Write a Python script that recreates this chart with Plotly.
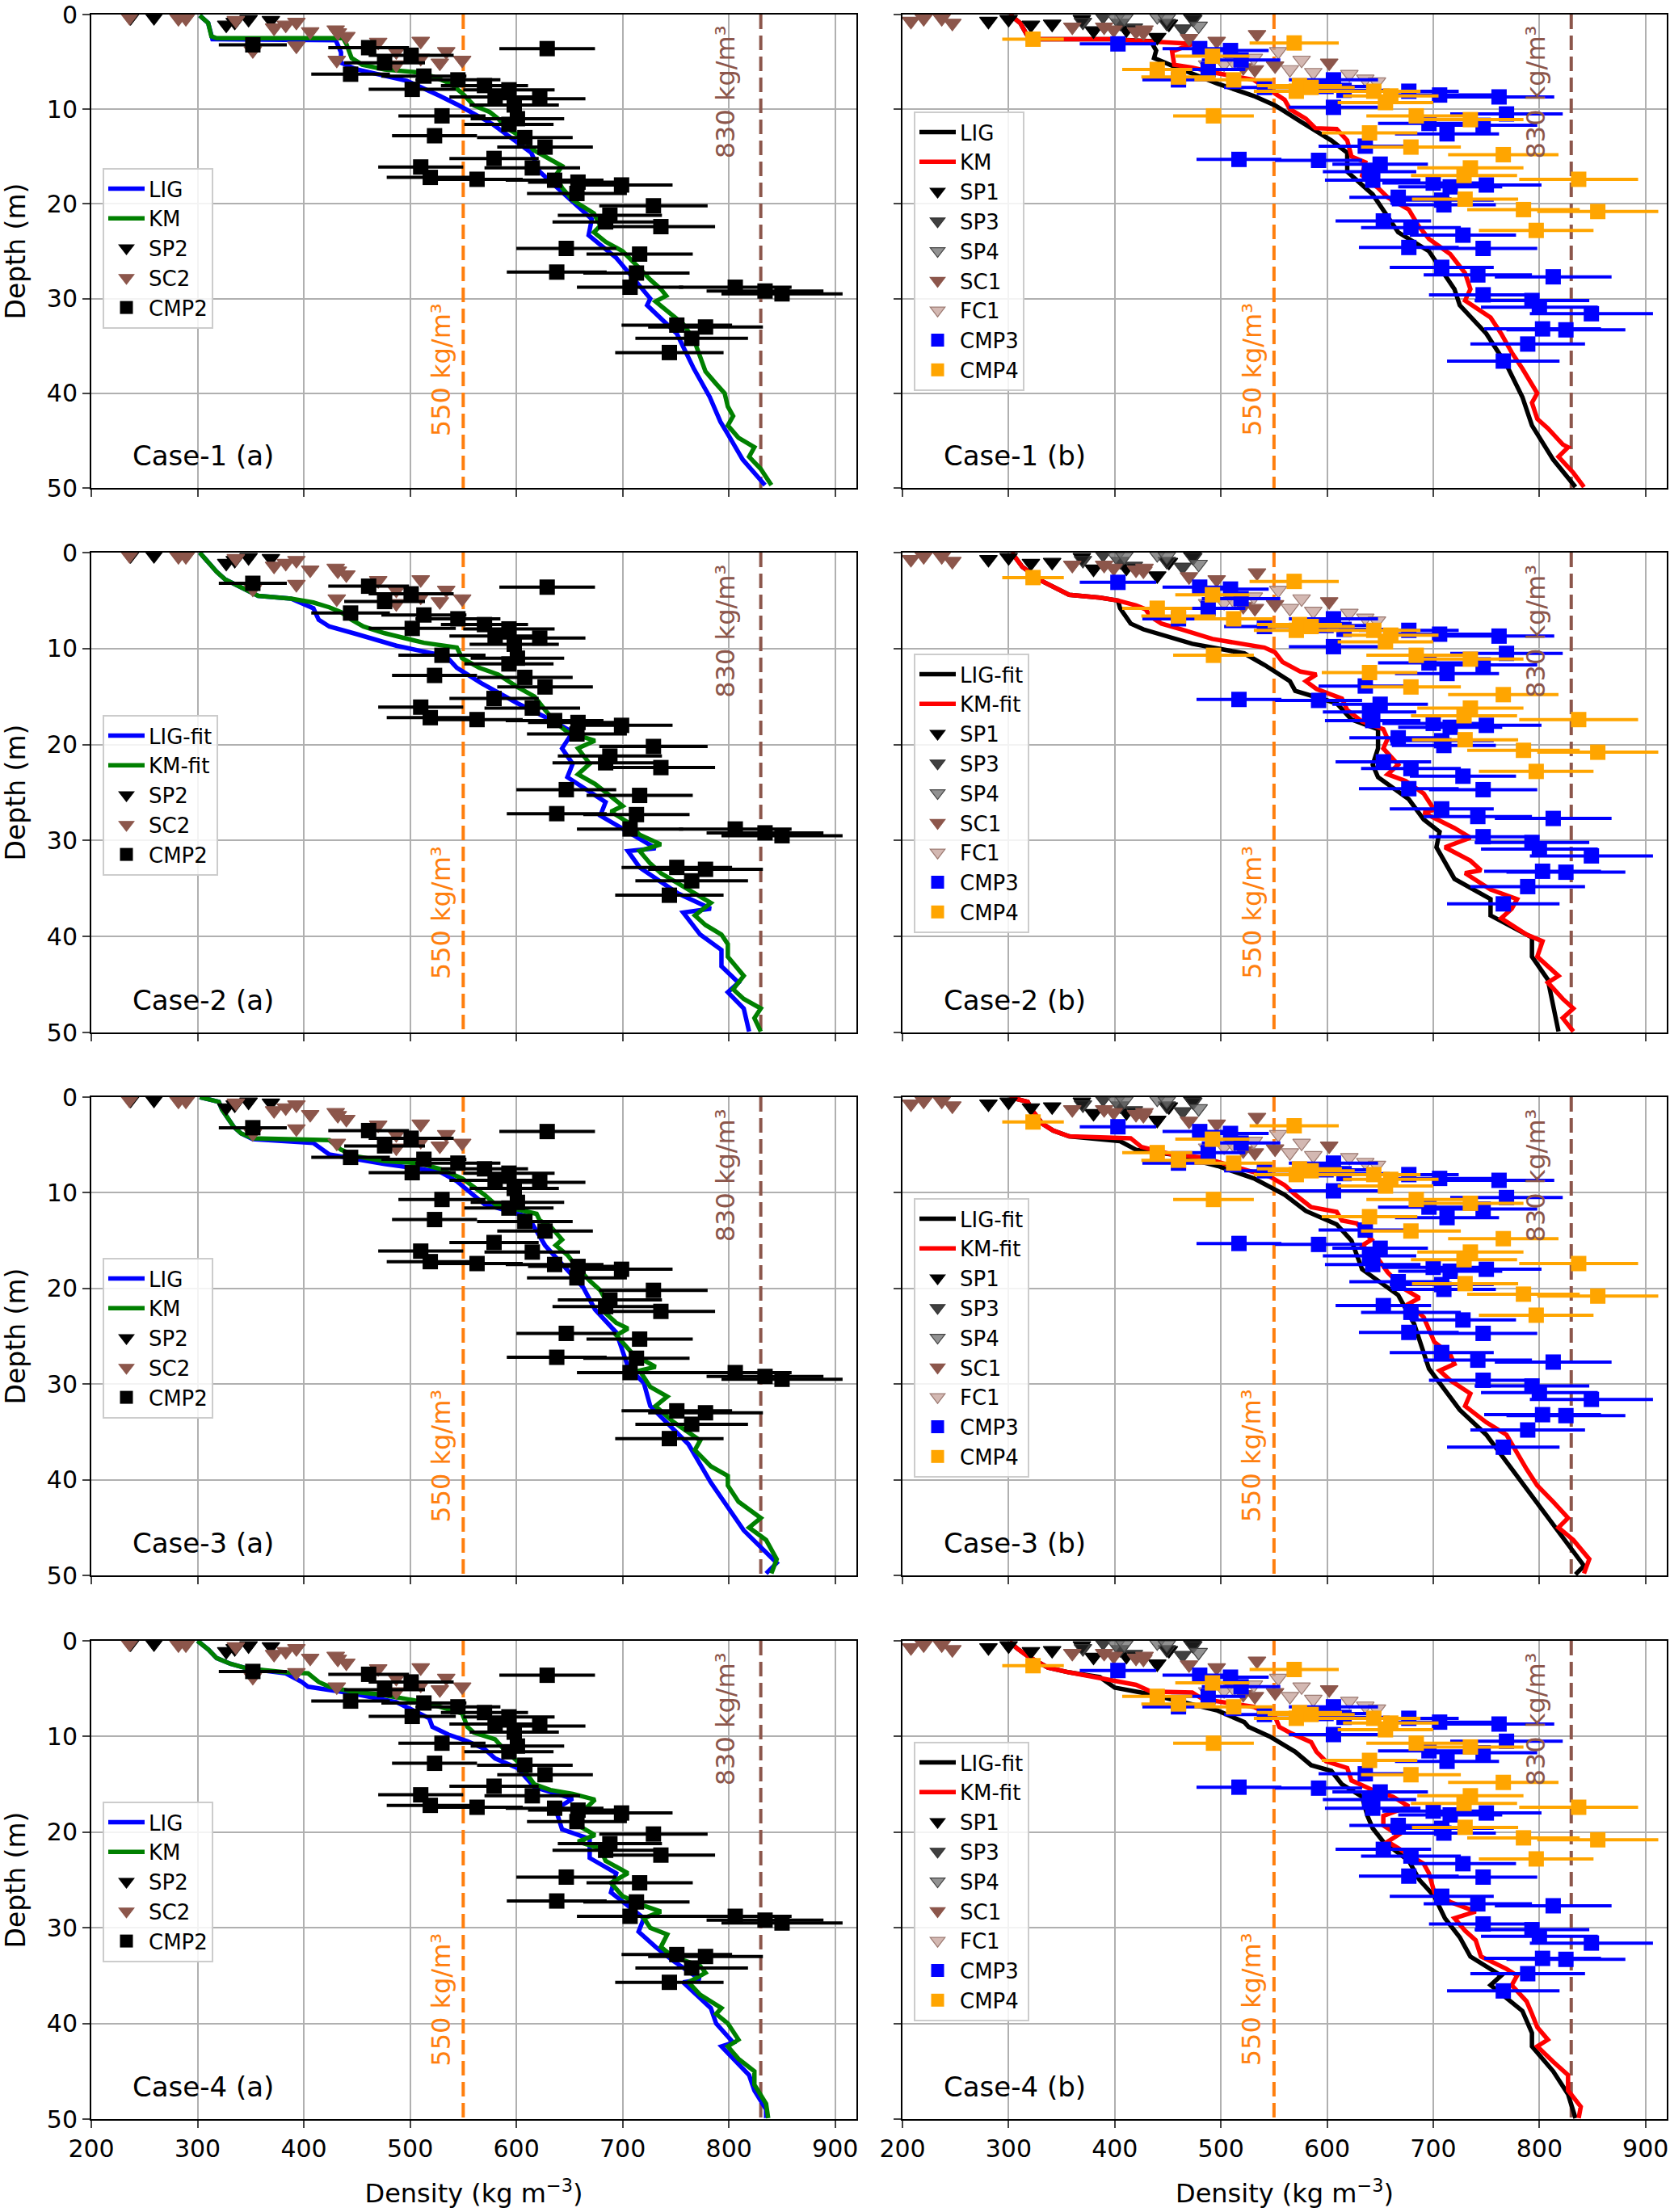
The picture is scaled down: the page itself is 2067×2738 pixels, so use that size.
import plotly.graph_objects as go

# ---------------- observations (left column) ----------------
sp2_rho = [237, 259, 327, 335, 348, 369]
sp2_z = [0.3, 0.3, 1.1, 0.8, 0.5, 0.6]
sc2_rho = [236, 282, 289, 336, 372, 383, 393, 406, 430, 432, 440, 393, 470, 487, 510, 534, 528, 549, 431, 352, 487, 510]
sc2_z = [0.3, 0.4, 0.4, 0.6, 1.4, 1.1, 0.8, 1.8, 1.6, 1.9, 2.3, 3.3, 2.9, 3.9, 2.8, 3.9, 5.1, 4.8, 4.8, 3.8, 5.3, 4.6]
cmp2_rho = [352, 629, 461, 501, 476, 444, 513, 545, 570, 502, 593, 580, 622, 598, 530, 601, 593, 523, 608, 627,
            579, 510, 615, 519, 563, 636, 658, 699, 657, 729, 688, 684, 736, 647, 716, 638, 713, 707, 806, 834,
            850, 751, 778, 765, 744]
cmp2_z = [3.2, 3.6, 3.5, 4.3, 5.1, 6.3, 6.5, 6.9, 7.5, 7.9, 7.95, 8.7, 8.9, 9.55, 10.7, 11.0, 11.6, 12.8, 13.0, 14.0,
          15.2, 16.1, 16.2, 17.2, 17.4, 17.5, 17.7, 18.0, 18.9, 20.2, 21.2, 21.9, 22.4, 24.7, 25.3, 27.2, 27.3, 28.8, 28.8, 29.2,
          29.5, 32.8, 33.0, 34.2, 35.7]
cmp2_err = [32, 45, 38, 40, 38, 37, 40, 40, 41, 41, 43, 43, 43, 42, 41, 44, 42, 40, 45, 45,
            42, 40, 45, 41, 43, 46, 47, 48, 47, 51, 49, 50, 51, 47, 50, 47, 50, 50, 53, 55,
            57, 52, 54, 53, 51]

# ---------------- observations (right column) ----------------
sp1_rho = [281, 300, 321, 341, 369, 380, 411, 440, 451, 473]
sp1_z = [0.7, 0.5, 1.1, 1.0, 0.5, 1.7, 1.6, 2.4, 1.0, 0.4]
sp3_rho = [370, 389, 405, 418, 449, 464, 474]
sp3_z = [0.8, 0.2, 0.9, 1.4, 0.9, 1.5, 0.5]
sp4_rho = [401, 409, 440, 449, 479]
sp4_z = [0.4, 0.4, 0.2, 0.4, 1.2]
sc1_rho = [208, 220, 237, 247, 360, 390, 399, 420, 427, 428, 470, 496, 534, 521, 551, 602, 532]
sc1_z = [0.7, 0.4, 0.4, 0.9, 1.3, 1.3, 1.6, 1.8, 1.9, 1.6, 2.5, 2.8, 2.1, 5.6, 5.4, 5.1, 5.8]
fc1_rho = [487, 503, 512, 531, 554, 565, 576, 587, 621, 636, 647]
fc1_z = [5.3, 5.2, 5.0, 4.6, 3.9, 5.8, 4.8, 6.1, 6.3, 6.8, 7.1]
cmp3_rho = [403, 480, 509, 519, 488, 460, 541, 606, 616, 599, 677, 706, 762, 606, 769, 696, 747, 713, 636, 517,
            592, 650, 640, 643, 700, 716, 750, 667, 708, 710, 653, 679, 728, 677, 747, 708, 742, 813, 747, 793,
            800, 849, 803, 825, 789, 766]
cmp3_z = [3.1, 3.6, 3.8, 4.8, 5.8, 6.9, 7.7, 6.9, 8.0, 7.6, 8.1, 8.5, 8.7, 9.8, 10.5, 11.5, 11.7, 12.6, 13.9, 15.3,
          15.4, 15.8, 16.6, 17.5, 17.8, 18.2, 18.0, 19.3, 19.6, 20.1, 21.8, 22.5, 23.3, 24.6, 24.7, 26.7, 27.5, 27.7, 29.6, 30.2,
          30.9, 31.6, 33.2, 33.3, 34.8, 36.6]
cmp3_err = [36, 35, 36, 37, 35, 34, 38, 42, 43, 42, 47, 49, 52, 42, 53, 48, 51, 49, 44, 40,
            41, 45, 44, 45, 48, 49, 52, 46, 49, 49, 45, 47, 50, 47, 51, 49, 51, 55, 51, 54,
            55, 58, 55, 56, 54, 53]
cmp4_rho = [323, 569, 492, 440, 460, 512, 574, 585, 571, 644, 660, 655, 493, 684, 735, 640, 679, 766, 735, 729,
            837, 730, 785, 855, 797]
cmp4_z = [2.6, 3.0, 4.4, 5.8, 6.6, 6.9, 7.5, 7.7, 8.1, 8.1, 8.6, 9.3, 10.7, 10.7, 11.1, 12.5, 14.0, 14.8, 16.2, 17.0,
          17.4, 19.5, 20.6, 20.8, 22.8]
cmp4_err = [29, 42, 35, 33, 35, 37, 40, 41, 40, 44, 45, 45, 38, 47, 50, 45, 47, 52, 50, 50,
            56, 50, 53, 57, 54]

# ---------------- modelled profiles, left column ----------------
c1a_km_rho = [302, 310, 313, 318, 437, 440, 445, 455, 476, 507, 523, 538, 549, 560, 575, 583, 591, 606, 616, 632, 643, 637, 643, 653, 663, 673, 679, 673, 684, 700, 715, 726, 736, 741, 731, 747, 757, 767, 773, 778, 788, 796, 799, 804, 799, 809, 824, 819, 830, 840]
c1a_km_z = [0.1, 0.9, 2.3, 2.5, 2.5, 3.1, 4.6, 5.3, 5.8, 6.1, 6.6, 7.3, 8.3, 9.6, 10.3, 11.0, 12.0, 13.0, 14.3, 15.3, 16.0, 17.0, 18.3, 19.6, 20.3, 21.0, 22.3, 23.0, 24.0, 25.0, 26.7, 28.0, 29.0, 29.7, 30.3, 31.7, 32.7, 34.3, 36.3, 37.7, 39.0, 40.0, 41.4, 42.4, 43.4, 44.7, 45.7, 46.7, 48.0, 49.7]
c1a_lig_rho = [302, 310, 314, 430, 435, 435, 450, 497, 528, 546, 578, 614, 622, 648, 671, 668, 694, 726, 723, 751, 767, 782, 792, 800, 813, 834]
c1a_lig_z = [0.1, 0.9, 2.6, 2.7, 4.0, 5.1, 5.8, 7.0, 8.6, 9.6, 11.6, 14.6, 16.6, 19.3, 21.6, 23.3, 25.7, 30.0, 30.7, 33.7, 37.4, 40.4, 43.0, 44.5, 47.0, 49.7]

c2a_km_rho = [302, 310, 318, 326, 341, 357, 388, 409, 424, 435, 445, 456, 476, 513, 544, 549, 565, 583, 601, 617, 627, 637, 648, 674, 658, 669, 658, 674, 689, 700, 689, 705, 716, 736, 716, 726, 736, 757, 783, 768, 778, 793, 799, 799, 814, 804, 814, 830, 824, 830]
c2a_km_z = [0, 1, 2, 2.8, 3.6, 4.5, 4.8, 5.2, 5.7, 6.2, 7.0, 7.7, 8.4, 9.4, 9.9, 11.0, 12.0, 12.7, 14.0, 15.0, 16.4, 17.7, 18.7, 19.6, 20.4, 22.0, 23.1, 24.1, 25.4, 26.4, 27.0, 28.1, 29.4, 30.4, 31.1, 32.4, 33.4, 34.8, 36.5, 37.8, 38.8, 39.8, 40.8, 42.1, 44.1, 45.5, 46.5, 47.5, 48.5, 49.9]
c2a_lig_rho = [302, 310, 318, 326, 341, 357, 388, 409, 414, 424, 450, 487, 534, 544, 567, 601, 632, 653, 643, 653, 648, 684, 679, 710, 731, 705, 716, 752, 783, 757, 773, 793, 793, 809, 799, 814, 819]
c2a_lig_z = [0, 1, 2, 2.8, 3.6, 4.5, 4.8, 5.8, 7.0, 7.7, 8.5, 9.7, 10.8, 12.0, 13.6, 15.7, 17.4, 18.7, 20.4, 22.0, 23.4, 26.0, 27.4, 29.4, 30.8, 31.1, 32.8, 35.5, 37.1, 37.5, 39.8, 41.4, 43.1, 44.8, 45.8, 47.5, 49.9]

c3a_km_rho = [302, 320, 323, 328, 334, 341, 352, 424, 435, 450, 476, 508, 528, 549, 570, 580, 601, 619, 622, 632, 643, 637, 648, 658, 669, 679, 684, 684, 694, 705, 694, 710, 731, 716, 726, 742, 731, 747, 773, 768, 783, 799, 799, 809, 830, 819, 835, 845, 840]
c3a_km_z = [0, 0.5, 1.3, 2.1, 3.1, 3.8, 4.3, 4.5, 5.5, 6.2, 6.7, 6.9, 7.5, 8.5, 10.2, 11.2, 11.8, 12.2, 12.9, 13.5, 14.9, 15.5, 16.5, 17.9, 19.2, 20.2, 21.2, 22.6, 23.6, 24.2, 24.9, 26.9, 28.2, 28.6, 30.3, 31.3, 32.3, 33.9, 35.9, 36.9, 38.6, 39.6, 40.6, 42.3, 44.0, 45.0, 46.3, 48.3, 49.8]
c3a_lig_rho = [302, 320, 323, 328, 334, 341, 352, 409, 424, 476, 528, 544, 570, 611, 627, 663, 674, 694, 705, 720, 726, 762, 783, 814, 845, 835]
c3a_lig_z = [0, 0.5, 1.3, 2.1, 3.1, 3.8, 4.4, 4.8, 6.0, 7.0, 7.8, 8.8, 11.2, 12.5, 15.5, 19.9, 22.2, 24.6, 28.2, 29.9, 32.3, 36.3, 40.3, 45.3, 48.7, 49.8]

c4a_km_rho = [300, 310, 318, 331, 347, 383, 404, 414, 424, 445, 471, 487, 508, 528, 549, 554, 560, 580, 588, 601, 611, 617, 632, 653, 674, 658, 658, 674, 658, 679, 684, 705, 689, 700, 720, 736, 720, 726, 742, 736, 747, 773, 778, 762, 773, 793, 788, 799, 809, 799, 809, 824, 824, 835, 837]
c4a_km_z = [0, 0.9, 1.8, 2.4, 2.9, 3.3, 3.4, 4.3, 4.8, 5.3, 5.6, 5.9, 6.3, 6.9, 7.6, 9.0, 9.6, 10.3, 11.3, 12.6, 14.0, 15.0, 15.6, 16.0, 16.6, 18.3, 19.3, 20.3, 21.0, 21.7, 23.0, 24.3, 25.3, 26.7, 27.7, 28.3, 29.0, 30.0, 30.7, 32.0, 33.0, 34.0, 34.7, 35.7, 37.0, 38.4, 39.0, 40.0, 41.7, 42.4, 43.7, 45.0, 46.4, 48.4, 49.9]
c4a_lig_rho = [300, 310, 318, 331, 347, 383, 398, 404, 445, 487, 518, 521, 536, 554, 570, 580, 601, 611, 617, 653, 637, 643, 669, 669, 694, 689, 720, 715, 731, 747, 773, 757, 783, 788, 804, 793, 819, 824, 835, 835]
c4a_lig_z = [0, 0.9, 1.8, 2.4, 2.9, 3.4, 4.3, 4.8, 5.5, 6.4, 8.1, 9.0, 9.8, 10.5, 11.3, 12.3, 13.3, 14.6, 15.3, 16.5, 17.6, 19.7, 20.7, 22.7, 24.3, 26.3, 29.0, 30.4, 32.0, 33.4, 35.4, 35.7, 38.4, 40.0, 42.0, 42.4, 45.4, 47.0, 49.0, 49.9]

# ---------------- modelled profiles, right column ----------------
c1b_km_rho = [301, 311, 318, 323, 395, 434, 473, 454, 456, 473, 492, 531, 546, 560, 565, 580, 589, 609, 619, 623, 636, 633, 648, 657, 677, 686, 696, 716, 730, 735, 730, 754, 764, 774, 784, 793, 798, 793, 798, 808, 822, 827, 818, 832, 842]
c1b_km_z = [0, 0.9, 2.3, 2.6, 2.6, 2.8, 3.1, 3.9, 5.3, 5.6, 6.1, 6.9, 7.95, 9.0, 10.0, 11.0, 12.0, 12.1, 13.3, 15.0, 15.6, 17.0, 18.3, 19.3, 20.6, 22.3, 23.7, 25.3, 27.3, 29.0, 30.2, 32.0, 33.7, 35.7, 37.4, 39.0, 40.0, 41.0, 42.7, 43.7, 45.4, 45.7, 46.7, 48.4, 49.9]
c1b_lig_rho = [301, 311, 318, 323, 395, 434, 439, 437, 454, 497, 531, 551, 575, 604, 619, 619, 643, 667, 696, 720, 725, 750, 769, 784, 793, 813, 834]
c1b_lig_z = [0, 0.9, 2.3, 2.6, 2.6, 2.8, 3.8, 4.6, 5.4, 7.3, 8.6, 9.6, 11.3, 13.3, 14.6, 16.6, 19.0, 23.0, 25.0, 29.0, 30.7, 33.7, 37.0, 40.4, 43.4, 47.0, 49.9]

c2b_km_rho = [303, 313, 332, 357, 386, 403, 420, 429, 434, 444, 463, 492, 541, 551, 558, 575, 590, 580, 590, 614, 619, 633, 653, 657, 653, 667, 657, 674, 691, 701, 691, 720, 735, 711, 735, 745, 730, 754, 779, 774, 764, 788, 803, 798, 818, 808, 822, 832, 822, 832]
c2b_km_z = [0, 1.5, 3.0, 4.4, 4.7, 5.0, 5.5, 5.9, 6.7, 7.4, 8.0, 9.0, 9.9, 10.4, 11.4, 12.4, 12.7, 13.4, 14.2, 15.2, 16.4, 17.6, 18.4, 19.4, 20.4, 22.1, 23.1, 23.8, 25.1, 26.8, 27.1, 28.7, 29.7, 30.7, 32.1, 33.1, 33.4, 35.1, 36.1, 37.1, 38.1, 39.8, 40.5, 42.1, 44.1, 44.8, 46.5, 47.5, 48.5, 49.9]
c2b_lig_rho = [303, 313, 332, 357, 386, 403, 405, 415, 427, 473, 522, 541, 565, 570, 609, 623, 648, 648, 643, 648, 677, 691, 706, 703, 720, 754, 754, 793, 793, 808, 813, 818]
c2b_lig_z = [0, 1.5, 3.0, 4.4, 4.7, 5.0, 5.8, 7.4, 8.0, 9.5, 10.5, 11.7, 13.4, 14.4, 15.7, 17.4, 18.4, 20.4, 22.1, 23.4, 25.7, 27.8, 29.1, 30.7, 34.0, 36.1, 37.8, 40.1, 42.1, 44.5, 47.2, 49.9]

c3b_km_rho = [301, 318, 323, 332, 342, 357, 415, 425, 454, 483, 526, 546, 560, 570, 585, 609, 614, 628, 642, 633, 648, 657, 672, 687, 677, 691, 696, 701, 716, 720, 706, 716, 735, 730, 750, 769, 788, 798, 813, 827, 818, 832, 847, 842]
c3b_km_z = [0, 0.5, 1.5, 2.8, 3.5, 4.1, 4.3, 5.2, 6.0, 6.3, 7.7, 8.3, 9.2, 10.2, 11.5, 12.0, 12.9, 13.2, 14.9, 15.5, 16.9, 18.3, 20.0, 21.0, 21.6, 23.0, 24.3, 25.6, 26.9, 27.9, 28.6, 29.6, 31.0, 32.3, 34.0, 35.3, 38.9, 40.6, 42.3, 44.0, 45.0, 46.3, 48.3, 49.8]
c3b_lig_rho = [301, 318, 323, 332, 342, 357, 405, 420, 454, 497, 531, 560, 580, 609, 623, 633, 667, 682, 696, 725, 750, 784, 818, 842, 834]
c3b_lig_z = [0, 0.5, 1.5, 2.8, 3.5, 4.1, 4.6, 5.5, 6.0, 7.2, 8.5, 10.2, 11.9, 13.3, 15.0, 18.0, 20.7, 23.7, 28.4, 32.7, 35.3, 40.3, 45.3, 49.0, 49.9]

c4b_km_rho = [301, 308, 318, 337, 357, 386, 405, 420, 434, 473, 483, 502, 531, 551, 555, 565, 585, 590, 599, 619, 623, 643, 662, 677, 653, 653, 667, 657, 672, 691, 696, 701, 716, 740, 720, 730, 740, 745, 769, 779, 774, 788, 793, 798, 808, 798, 813, 827, 827, 839, 837]
c4b_km_z = [0.1, 0.8, 1.6, 2.8, 3.3, 3.9, 4.3, 4.6, 5.3, 5.4, 6.1, 6.4, 6.9, 7.95, 9.0, 9.6, 10.6, 11.6, 12.6, 13.3, 14.6, 15.6, 16.3, 17.3, 18.3, 19.3, 20.3, 21.0, 22.0, 23.3, 24.3, 26.3, 27.3, 28.3, 29.0, 30.3, 31.3, 33.0, 34.3, 35.0, 36.0, 37.7, 39.0, 40.4, 41.7, 42.4, 44.0, 45.4, 47.0, 48.7, 49.9]
c4b_lig_rho = [301, 308, 318, 337, 357, 386, 400, 434, 497, 522, 526, 546, 570, 585, 604, 614, 633, 638, 643, 653, 677, 687, 701, 711, 725, 735, 764, 754, 784, 793, 793, 813, 827, 834]
c4b_lig_z = [0.1, 0.8, 1.6, 2.8, 3.3, 3.8, 4.9, 5.6, 7.3, 8.5, 9.0, 10.0, 11.6, 13.0, 13.6, 15.0, 16.3, 18.3, 19.6, 21.0, 23.0, 25.0, 26.7, 29.0, 31.0, 33.0, 35.0, 36.0, 38.7, 41.0, 42.4, 45.0, 47.4, 49.9]

case_labels = ["Case-1 (a)", "Case-1 (b)", "Case-2 (a)", "Case-2 (b)",
               "Case-3 (a)", "Case-3 (b)", "Case-4 (a)", "Case-4 (b)"]
lig_names = ["LIG", "LIG", "LIG-fit", "LIG-fit", "LIG", "LIG-fit", "LIG", "LIG-fit"]
km_names = ["KM", "KM", "KM-fit", "KM-fit", "KM", "KM-fit", "KM", "KM-fit"]
profiles = [
    (c1a_lig_rho, c1a_lig_z, c1a_km_rho, c1a_km_z),
    (c1b_lig_rho, c1b_lig_z, c1b_km_rho, c1b_km_z),
    (c2a_lig_rho, c2a_lig_z, c2a_km_rho, c2a_km_z),
    (c2b_lig_rho, c2b_lig_z, c2b_km_rho, c2b_km_z),
    (c3a_lig_rho, c3a_lig_z, c3a_km_rho, c3a_km_z),
    (c3b_lig_rho, c3b_lig_z, c3b_km_rho, c3b_km_z),
    (c4a_lig_rho, c4a_lig_z, c4a_km_rho, c4a_km_z),
    (c4b_lig_rho, c4b_lig_z, c4b_km_rho, c4b_km_z),
]
ref_lines = [550, 830]
x_ticks = [200, 300, 400, 500, 600, 700, 800, 900]
y_ticks = [0, 10, 20, 30, 40, 50]

# ---------------- layout geometry ----------------
W, H = 2067, 2738
FONT = "DejaVu Sans"
col_px = [(113, 1060), (1117, 2063)]
row_px = [(18, 604), (684, 1278), (1358, 1950), (2031, 2623)]
leg_left_top = [208, 885, 1557, 2230]
leg_right_top = [138, 809, 1483, 2156]

ORANGE = "#ff7f0e"
BROWN = "#8c564b"

fig = go.Figure()
layout = dict(
    width=W, height=H, margin=dict(l=0, r=0, t=0, b=0),
    paper_bgcolor="white", plot_bgcolor="white",
    font=dict(family=FONT, size=30, color="black"),
    annotations=[],
)

for i in range(8):
    n = i + 1
    r, c = i // 2, i % 2
    xa = "x" if n == 1 else f"x{n}"
    ya = "y" if n == 1 else f"y{n}"
    leg = "legend" if n == 1 else f"legend{n}"
    x0, x1 = col_px[c]
    ytop, ybot = row_px[r]
    xaxis = dict(
        domain=[x0 / W, x1 / W], anchor=ya, range=[200, 920],
        tickvals=x_ticks, showticklabels=(r == 3), ticks="outside", ticklen=9, tickwidth=2,
        tickfont=dict(size=30, family=FONT), showline=True, mirror=True, linecolor="black", linewidth=2,
        showgrid=True, gridcolor="#b0b0b0", gridwidth=1.5, zeroline=False,
        ticklabeloverflow="allow", automargin=False,
    )
    if r == 3:
        xaxis["title"] = dict(text="Density (kg m<sup>−3</sup>)", font=dict(size=32, family=FONT), standoff=28)
    yaxis = dict(
        domain=[1 - ybot / H, 1 - ytop / H], anchor=xa, range=[50, 0],
        tickvals=y_ticks, showticklabels=(c == 0), ticks="outside", ticklen=9, tickwidth=2,
        tickfont=dict(size=30, family=FONT), showline=True, mirror=True, linecolor="black", linewidth=2,
        showgrid=True, gridcolor="#b0b0b0", gridwidth=1.5, zeroline=False,
        ticklabeloverflow="allow", automargin=False,
    )
    if c == 0:
        yaxis["title"] = dict(text="Depth (m)", font=dict(size=33, family=FONT), standoff=20)
    layout["xaxis" if n == 1 else f"xaxis{n}"] = xaxis
    layout["yaxis" if n == 1 else f"yaxis{n}"] = yaxis

    lx = (127 if c == 0 else 1131) / W
    ly = 1 - (leg_left_top[r] if c == 0 else leg_right_top[r]) / H
    layout[leg] = dict(
        x=lx, y=ly, xanchor="left", yanchor="top", xref="paper", yref="paper",
        font=dict(size=26, family=FONT), bgcolor="rgba(255,255,255,0.85)",
        bordercolor="#cccccc", borderwidth=2, itemwidth=45, tracegroupgap=0,
    )

    # reference density lines
    for rho_ref, col in zip(ref_lines, [ORANGE, BROWN]):
        fig.add_trace(go.Scatter(x=[rho_ref, rho_ref], y=[0, 50], mode="lines",
                                 line=dict(color=col, width=4, dash="18px,8px"),
                                 showlegend=False, hoverinfo="skip", xaxis=xa, yaxis=ya))

    lig_rho, lig_z, km_rho, km_z = profiles[i]
    lig_col = "#0000ff" if c == 0 else "#000000"
    km_col = "#008000" if c == 0 else "#ff0000"
    fig.add_trace(go.Scatter(x=lig_rho, y=lig_z, mode="lines", name=lig_names[i],
                             line=dict(color=lig_col, width=5.5), legend=leg, xaxis=xa, yaxis=ya))
    fig.add_trace(go.Scatter(x=km_rho, y=km_z, mode="lines", name=km_names[i],
                             line=dict(color=km_col, width=5.5), legend=leg, xaxis=xa, yaxis=ya))

    def tri(xs, zs, name, color, edge):
        fig.add_trace(go.Scatter(x=xs, y=zs, mode="markers", name=name,
                                 marker=dict(symbol="triangle-down", size=19, color=color,
                                             line=dict(color=edge, width=1.2)),
                                 legend=leg, xaxis=xa, yaxis=ya))

    def cmp(xs, zs, err, name, color):
        fig.add_trace(go.Scatter(x=xs, y=zs, mode="markers", name=name,
                                 marker=dict(symbol="square", size=19, color=color),
                                 error_x=dict(type="data", array=err, color=color, thickness=4, width=0),
                                 legend=leg, xaxis=xa, yaxis=ya))

    if c == 0:
        tri(sp2_rho, sp2_z, "SP2", "#000000", "#000000")
        tri(sc2_rho, sc2_z, "SC2", BROWN, BROWN)
        cmp(cmp2_rho, cmp2_z, cmp2_err, "CMP2", "#000000")
    else:
        tri(sp1_rho, sp1_z, "SP1", "#000000", "#000000")
        tri(sp3_rho, sp3_z, "SP3", "rgba(30,30,30,0.85)", "#333333")
        tri(sp4_rho, sp4_z, "SP4", "rgba(110,110,110,0.75)", "#444444")
        tri(sc1_rho, sc1_z, "SC1", BROWN, BROWN)
        tri(fc1_rho, fc1_z, "FC1", "rgba(196,160,152,0.75)", "#9c7a72")
        cmp(cmp3_rho, cmp3_z, cmp3_err, "CMP3", "#0000ff")
        cmp(cmp4_rho, cmp4_z, cmp4_err, "CMP4", "#ffa500")

    layout["annotations"] += [
        dict(x=529, y=37.5, xref=xa, yref=ya, text="550 kg/m³", textangle=-90, showarrow=False,
             font=dict(size=32, color=ORANGE, family=FONT)),
        dict(x=797, y=8.2, xref=xa, yref=ya, text="830 kg/m³", textangle=-90, showarrow=False,
             font=dict(size=32, color=BROWN, family=FONT)),
        dict(x=237, y=46.6, xref=xa, yref=ya, text=case_labels[i], xanchor="left", showarrow=False,
             font=dict(size=34, color="black", family=FONT)),
    ]

fig.update_layout(**layout)
fig.write_html("out.html", config={"displayModeBar": False},
               post_script="document.body.style.margin='0';document.body.style.overflow='hidden';")
